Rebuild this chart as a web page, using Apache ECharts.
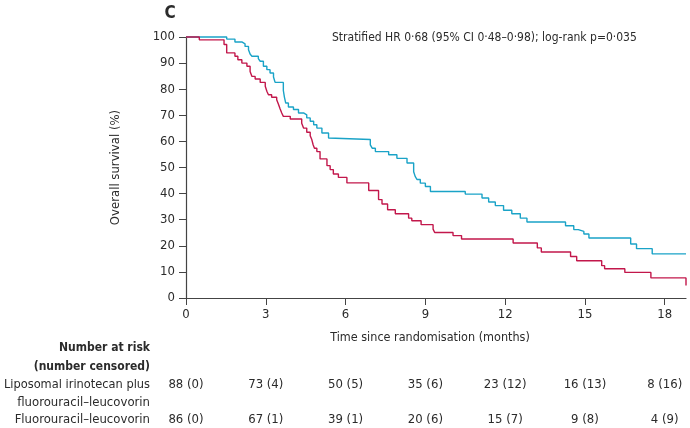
<!DOCTYPE html>
<html><head><meta charset="utf-8">
<script src="https://cdn.jsdelivr.net/npm/echarts@6/dist/echarts.min.js"></script>
<style>html,body{margin:0;padding:0;background:#fff}#c{width:690px;height:428px}</style>
</head><body><div id="c"></div>
<script>
// Kaplan–Meier steps: [months, overall survival %]
const lipoCurve = [[0,100],[1.53,99.2],[1.84,98.1],[2.10,97.4],[2.22,96.4],[2.35,95.1],[2.41,93.5],[2.48,92.6],[2.72,91.7],[2.79,90.7],[2.91,88.8],[3.04,87.5],[3.16,86.2],[3.29,84.7],[3.35,82.6],[3.66,79.5],[3.70,77.0],[3.75,74.7],[3.85,73.2],[4.04,72.2],[4.23,70.9],[4.42,70.2],[4.54,69.0],[4.67,67.7],[4.80,66.4],[4.92,65.1],[5.11,63.2],[5.36,61.3],[5.42,60.7],[6.93,58.7],[7.00,57.4],[7.12,56.1],[7.62,54.9],[7.93,53.5],[8.31,51.7],[8.56,48.4],[8.62,46.5],[8.69,45.4],[8.81,44.0],[9.00,42.7],[9.19,40.8],[10.50,39.8],[11.13,38.3],[11.38,36.8],[11.63,35.4],[11.94,33.6],[12.25,32.3],[12.57,30.6],[12.82,29.1],[14.27,27.7],[14.58,26.2],[14.75,25.5],[14.96,24.5],[15.15,23.0],[16.72,20.7],[16.94,18.9],[17.53,16.9],[18.8,16.9]];
const fuCurve = [[0,100],[0.50,98.9],[1.43,97.1],[1.53,93.9],[1.84,92.6],[1.95,91.3],[2.10,90.0],[2.29,88.8],[2.41,86.8],[2.48,84.9],[2.60,83.9],[2.79,82.6],[2.98,81.1],[3.04,79.2],[3.10,77.9],[3.22,76.9],[3.41,76.0],[3.48,74.1],[3.54,72.4],[3.60,70.9],[3.66,69.6],[3.92,68.6],[4.35,67.0],[4.42,65.1],[4.54,63.5],[4.67,62.2],[4.73,60.7],[4.78,58.7],[4.83,57.4],[4.92,56.1],[5.04,53.3],[5.30,50.7],[5.42,49.2],[5.54,47.5],[5.73,46.2],[6.05,44.1],[6.87,41.2],[7.24,37.7],[7.37,36.0],[7.58,33.8],[7.87,32.3],[8.37,30.6],[8.49,29.6],[8.84,28.1],[9.29,26.4],[9.35,25.1],[10.04,23.9],[10.36,22.6],[12.30,21.1],[13.21,19.2],[13.36,17.6],[14.46,15.9],[14.69,14.3],[15.63,12.4],[15.74,11.2],[16.50,9.8],[17.48,7.7],[18.8,4.8]];
const xTicks = [0,3,6,9,12,15,18];
const riskTimes = [0,3,6,9,12,15,18];
const lipoAtRisk = [88,73,50,35,23,16,8];
const lipoCensored = [0,4,5,6,12,13,16];
const fuAtRisk = [86,67,39,20,15,9,4];
const fuCensored = [0,1,1,6,7,8,9];
const annotation = 'Stratified HR 0·68 (95% CI 0·48–0·98); log-rank p=0·035';

const FONT = "'Liberation Sans Narrow','DejaVu Sans Condensed',sans-serif";
const TXT = '#2b2b2b';
const chart = echarts.init(document.getElementById('c'), null, {renderer:'canvas'});
chart.setOption({
  animation:false,
  grid:{left:186, right:4, top:37, bottom:130, containLabel:false},
  xAxis:{type:'value', min:0, max:18.8,
    name:'Time since randomisation (months)', nameLocation:'middle', nameGap:33,
    nameTextStyle:{fontFamily:FONT, fontSize:12.5, color:TXT, padding:[0,12,0,0]},
    axisLine:{show:true, onZero:false, lineStyle:{color:'#444', width:1.2}},
    axisTick:{show:true, length:7, customValues:xTicks, lineStyle:{color:'#444'}},
    axisLabel:{customValues:xTicks, fontFamily:FONT, fontSize:13, color:TXT, margin:10},
    splitLine:{show:false}},
  yAxis:{type:'value', min:0, max:100, interval:10,
    name:'Overall survival (%)', nameLocation:'middle', nameGap:64,
    nameTextStyle:{fontFamily:FONT, fontSize:13, color:TXT},
    axisLine:{show:true, lineStyle:{color:'#444', width:1.2}},
    axisTick:{show:true, length:7, lineStyle:{color:'#444'}},
    axisLabel:{fontFamily:FONT, fontSize:13, color:TXT, margin:11},
    splitLine:{show:false}},
  series:[
    {type:'line', step:'end', data:lipoCurve, symbol:'none', clip:false,
      lineStyle:{color:'#1aa3c7', width:1.4}},
    {type:'line', step:'end', data:fuCurve, symbol:'none', clip:false,
      lineStyle:{color:'#c2174b', width:1.4}}
  ]
});

const g = [];
const t = (x,y,text,opt) => g.push({type:'text', x, y, style:Object.assign({text, font:`13px ${FONT}`, fill:TXT, textVerticalAlign:'middle'}, opt||{})});
t(170,14,'C',{font:`bold 17px ${FONT}`, textAlign:'center'});
t(332,38,annotation,{font:`12px ${FONT}`, textAlign:'left'});
t(150,348,'Number at risk',{font:`bold 12px ${FONT}`, textAlign:'right'});
t(150,367,'(number censored)',{font:`bold 12px ${FONT}`, textAlign:'right'});
t(150,385,'Liposomal irinotecan plus',{font:`12.7px ${FONT}`, textAlign:'right'});
t(150,403,'fluorouracil–leucovorin',{textAlign:'right'});
t(150,420,'Fluorouracil–leucovorin',{textAlign:'right'});
riskTimes.forEach((tm,i)=>{
  const px = chart.convertToPixel({xAxisIndex:0}, tm);
  t(px,385,`${lipoAtRisk[i]} (${lipoCensored[i]})`,{textAlign:'center'});
  t(px,420,`${fuAtRisk[i]} (${fuCensored[i]})`,{textAlign:'center'});
});
chart.setOption({graphic:g});
</script></body></html>
